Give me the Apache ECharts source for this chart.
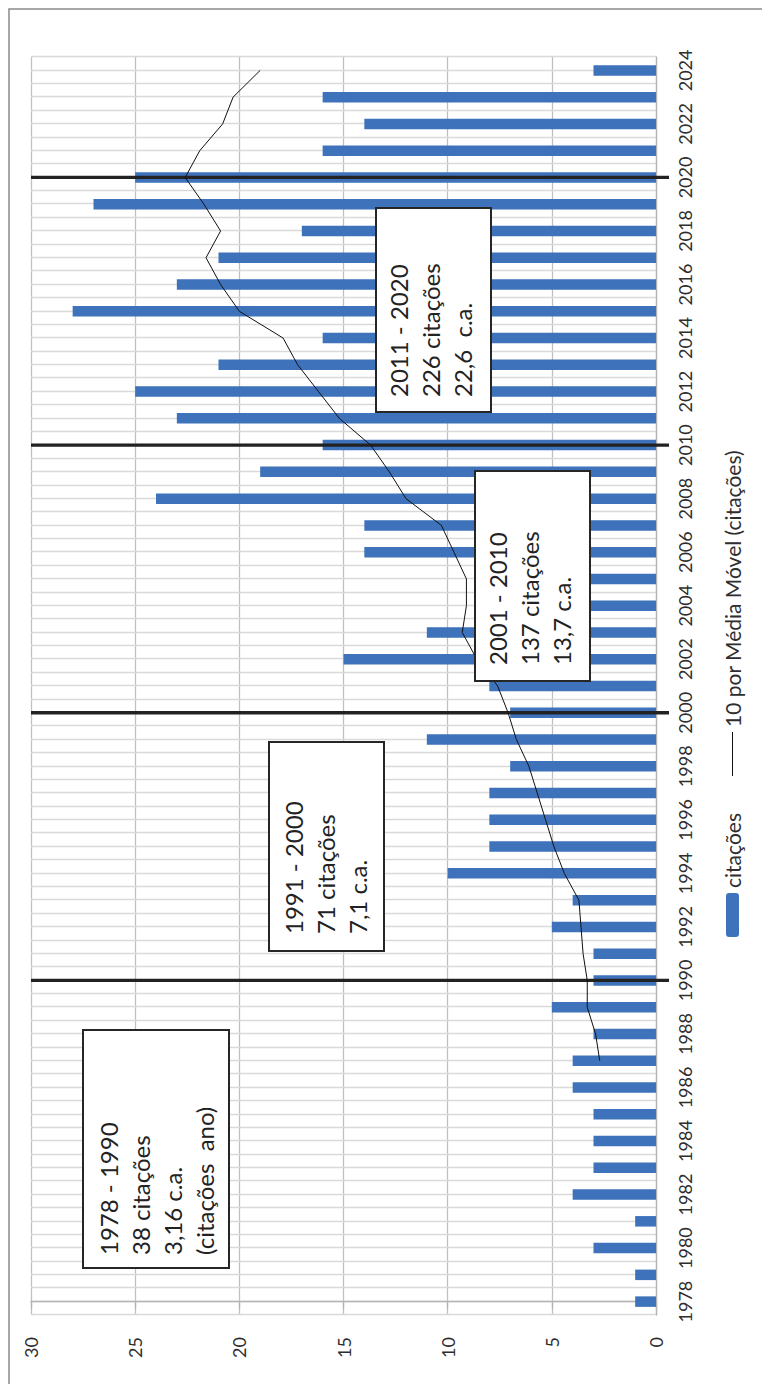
<!DOCTYPE html>
<html>
<head>
<meta charset="utf-8">
<script src="https://cdn.jsdelivr.net/npm/echarts@6/dist/echarts.min.js"></script>
<style>
  html, body { margin: 0; padding: 0; overflow: hidden; background: #fff; width: 762px; height: 1384px; }
  /* the chart is laid out landscape and turned a quarter turn counter-clockwise */
  #chart { position: absolute; left: 0; top: 0; width: 1384px; height: 762px;
           transform-origin: 0 0; transform: translateY(1384px) rotate(-90deg); }
</style>
</head>
<body>
<div id="chart"></div>
<script>
// Yearly citation counts
const years = ['1978','1979','1980','1981','1982','1983','1984','1985','1986','1987',
  '1988','1989','1990','1991','1992','1993','1994','1995','1996','1997',
  '1998','1999','2000','2001','2002','2003','2004','2005','2006','2007',
  '2008','2009','2010','2011','2012','2013','2014','2015','2016','2017',
  '2018','2019','2020','2021','2022','2023','2024'];

const citations = [1, 1, 3, 1, 4, 3, 3, 3, 4, 4,
  3, 5, 3, 3, 5, 4, 10, 8, 8, 8,
  7, 11, 7, 8, 15, 11, 8, 8, 14, 14,
  24, 19, 16, 23, 25, 21, 16, 28, 23, 21,
  17, 27, 25, 16, 14, 16, 3];

// 10-year moving average (first value in 1987)
const movingAvg = [null, null, null, null, null, null, null, null, null, 2.7,
  2.9, 3.3, 3.3, 3.5, 3.6, 3.7, 4.4, 4.9, 5.3, 5.7,
  6.1, 6.7, 7.1, 7.6, 8.6, 9.3, 9.1, 9.1, 9.7, 10.3,
  12.0, 12.8, 13.7, 15.2, 16.2, 17.2, 17.9, 20.0, 20.9, 21.6,
  20.9, 21.7, 22.6, 21.9, 20.8, 20.3, 19.0];

// decade separators
const dividerYears = ['1990', '2000', '2010', '2020'];

// value axis ticks
const valueMin = 0, valueMax = 30, valueStep = 5;

// period summaries
const periodNotes = [
  '1978 - 1990\n38 citações\n3,16 c.a.\n(citações  ano)',
  '1991 - 2000\n71 citações\n7,1 c.a.',
  '2001 - 2010\n137 citações\n13,7 c.a.',
  '2011 - 2020\n226 citações\n22,6  c.a.'
];
const noteBoxes = [
  { x: 116, y: 83,  w: 238, h: 146, tx: 129, ty: 92 },
  { x: 433, y: 269, w: 209, h: 115, tx: 450, ty: 277 },
  { x: 703, y: 475, w: 210, h: 115, tx: 719, ty: 481 },
  { x: 972, y: 376, w: 204, h: 115, tx: 987, ty: 382 }
];

const FONT = 'Lato';
const TEXT = '#2e2e2e';
const chart = echarts.init(document.getElementById('chart'), null,
  { renderer: 'svg', width: 1384, height: 762 });

const graphics = [
  // outer frame
  { type: 'rect', z: 100, silent: true,
    shape: { x: -10, y: 9, width: 1385, height: 800 },
    style: { fill: 'none', stroke: '#8a8a8a', lineWidth: 1.5 } }
];
periodNotes.forEach((txt, i) => {
  const b = noteBoxes[i];
  graphics.push({ type: 'rect', z: 100, silent: true,
    shape: { x: b.x, y: b.y, width: b.w, height: b.h },
    style: { fill: '#ffffff', stroke: '#262626', lineWidth: 2 } });
  graphics.push({ type: 'text', z: 101, silent: true,
    style: { x: b.tx, y: b.ty, text: txt, font: '24px ' + FONT, fill: '#222',
             lineHeight: 32, align: 'left', verticalAlign: 'top' } });
});

chart.setOption({
  animation: false,
  backgroundColor: '#ffffff',
  grid: { left: 69, right: 57, top: 31, bottom: 106, containLabel: false },
  legend: {
    left: 447, top: 722, padding: 0, itemGap: 37, itemWidth: 44, itemHeight: 13,
    textStyle: { fontFamily: FONT, fontSize: 21, color: TEXT },
    data: [
      { name: 'citações' },
      // plain thin stroke for the moving-average key
      { name: '10 por Média Móvel (citações)', icon: 'path://M0,0 H44 V1 H0 Z' }
    ]
  },
  xAxis: [
    {
      type: 'category', data: years, boundaryGap: true,
      axisLine: { lineStyle: { color: '#b4b4b4', width: 1.3 } },
      axisTick: { interval: 0, length: 7, lineStyle: { color: '#b4b4b4', width: 1.3 } },
      axisLabel: { interval: 1, margin: 20, fontFamily: FONT, fontSize: 18, color: TEXT },
      splitLine: { show: false }
    },
    {
      // half-category grid: lines on every category edge and centre
      type: 'value', min: -0.5, max: years.length - 0.5, interval: 0.5,
      axisLine: { show: false }, axisTick: { show: false }, axisLabel: { show: false },
      splitLine: { show: true, lineStyle: { color: '#d9d9d9', width: 1.3 } }
    }
  ],
  yAxis: {
    type: 'value', min: valueMin, max: valueMax, interval: valueStep,
    axisLine: { show: true, lineStyle: { color: '#b4b4b4', width: 1.3 } },
    axisTick: { show: true, length: 7, lineStyle: { color: '#b4b4b4', width: 1.3 } },
    axisLabel: { margin: 22, fontFamily: FONT, fontSize: 18, color: TEXT },
    splitLine: { lineStyle: { color: '#c0c0c0', width: 1.3 } }
  },
  series: [
    {
      name: 'citações', type: 'bar', xAxisIndex: 0, data: citations,
      barWidth: 10.5, z: 2,
      itemStyle: { color: '#3E72BA' }
    },
    {
      name: 'separadores', type: 'custom', xAxisIndex: 0, z: 3,
      data: dividerYears.map(y => [y, valueMin]),
      encode: { x: 0, y: 1 },
      renderItem(params, api) {
        const idx = api.value(0);
        const top = api.coord([idx, valueMax]);
        const bottom = api.coord([idx, valueMin]);
        return {
          type: 'line',
          shape: { x1: top[0], y1: top[1], x2: bottom[0], y2: bottom[1] + 13 },
          style: { stroke: '#222222', lineWidth: 3.3 }
        };
      }
    },
    {
      name: '10 por Média Móvel (citações)', type: 'line', xAxisIndex: 0,
      data: movingAvg, symbol: 'none', connectNulls: false, z: 4,
      lineStyle: { color: '#111111', width: 1 },
      itemStyle: { color: '#111111' }
    }
  ],
  graphic: graphics
});
</script>
</body>
</html>
